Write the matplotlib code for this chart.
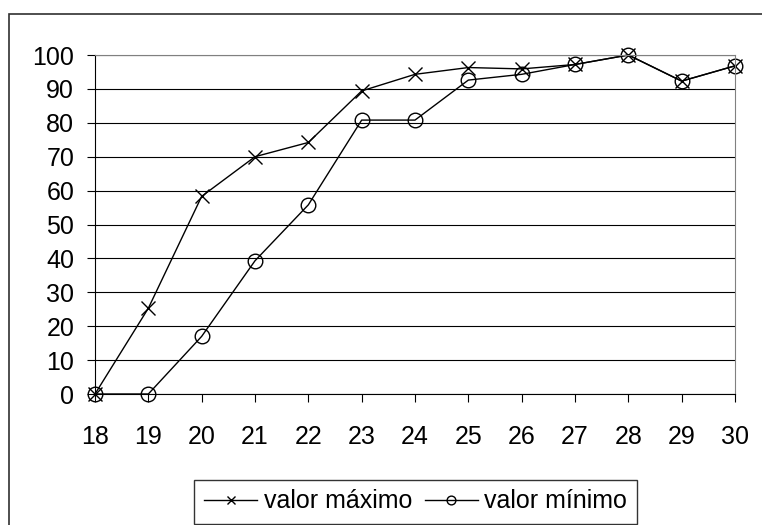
import matplotlib.pyplot as plt
from matplotlib.patches import Rectangle

# datos
edades = [18, 19, 20, 21, 22, 23, 24, 25, 26, 27, 28, 29, 30]
valor_maximo = [0, 25.3, 58.3, 70.0, 74.2, 89.4, 94.3, 96.3, 95.9, 97.2, 100, 92.3, 96.8]
valor_minimo = [0, 0, 17.0, 39.3, 55.8, 80.8, 80.8, 92.6, 94.3, 97.2, 100, 92.3, 96.8]

plt.rcParams['font.family'] = ['Liberation Sans', 'DejaVu Sans']

W, H = 762, 525
fig = plt.figure(figsize=(W / 100, H / 100), dpi=100)
ax = fig.add_axes([95 / W, (H - 394) / H, 640 / W, 339 / H])

# marco exterior (sale por la derecha y por abajo)
fig.patches.append(Rectangle((8.5 / W, -20 / H), 800 / W, (H - 14 + 20) / H,
                             transform=fig.transFigure, fill=False,
                             edgecolor='#303030', linewidth=1.2))

ax.plot(edades, valor_maximo, color='black', linewidth=1, marker='x', markersize=9.5,
        markeredgewidth=1, clip_on=False, label='valor máximo')
ax.plot(edades, valor_minimo, color='black', linewidth=1, marker='o', markersize=10.5,
        markerfacecolor='none', markeredgewidth=1, clip_on=False, label='valor mínimo')

ax.set_xlim(18, 30)
ax.set_ylim(0, 100)
ax.set_xticks(edades)
ax.set_yticks(range(0, 101, 10))
ax.yaxis.grid(True, color='black', linewidth=0.8)
ax.set_axisbelow(True)

for s in ['top', 'right']:
    ax.spines[s].set_color('#808080')
for s in ['left', 'bottom']:
    ax.spines[s].set_color('black')

ax.tick_params(axis='both', labelsize=18, direction='out', length=6, width=0.8)
ax.tick_params(axis='x', pad=16)
ax.tick_params(axis='y', pad=9)

leg = fig.legend(loc='center', bbox_to_anchor=(415.5 / W, 1 - 501.5 / H), ncol=2,
                 fontsize=18, frameon=True, fancybox=False, edgecolor='black',
                 handlelength=2.15, handletextpad=0.25, columnspacing=0.5, borderpad=0.4,
                 borderaxespad=0, markerscale=0.6)
leg.get_frame().set_linewidth(1)

fig.savefig('out.png', dpi=100)
